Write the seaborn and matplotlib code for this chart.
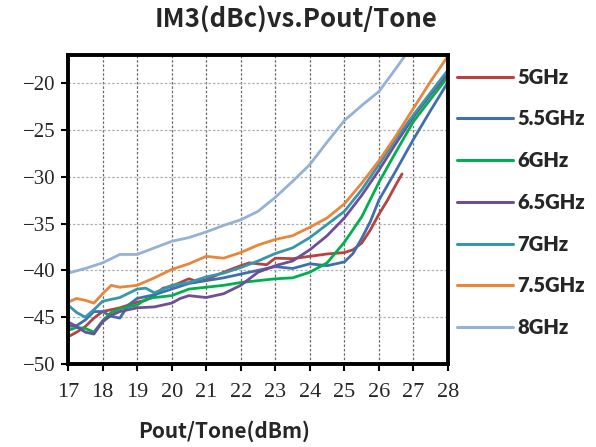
import numpy as np
import pandas as pd
import seaborn as sns
import matplotlib
matplotlib.use("Agg")
import matplotlib.pyplot as plt

# ---- data ----
x_5 = [17, 17.25, 17.5, 17.75, 18, 18.5, 19, 19.25, 19.5, 19.75, 20, 20.5, 20.75, 21, 21.5, 22, 22.25, 22.5, 22.75,
       23, 23.5, 24, 24.5, 25, 25.25, 25.5, 25.75, 26, 26.25, 26.5, 26.67]
y_5 = [-47.1, -46.6, -46.0, -45.1, -44.4, -44.0, -43.4, -43.2, -42.7, -41.9, -41.7, -40.9, -41.2, -41.0, -40.2, -39.5, -39.2, -39.3, -39.4,
       -38.7, -38.75, -38.5, -38.25, -38.1, -37.8, -37.1, -35.7, -34.0, -32.5, -30.8, -29.7]

x_55 = [17, 17.25, 17.5, 17.75, 18, 18.25, 18.5, 18.75, 19, 19.5, 20, 20.5, 21, 21.5, 22, 22.5, 23, 23.5, 24, 24.5,
        25, 25.25, 25.5, 25.75, 26, 26.5, 27, 27.5, 28]
y_55 = [-46.0, -45.9, -45.3, -44.4, -44.4, -44.9, -45.1, -43.7, -43.0, -42.6, -42.0, -41.4, -41.1, -40.8, -40.4, -40.0, -39.6, -39.8, -39.3, -39.5,
        -39.1, -38.2, -36.6, -34.8, -32.5, -29.3, -26.0, -22.9, -19.9]

x_6 = [17, 17.25, 17.5, 17.75, 18, 18.25, 18.5, 19, 19.25, 19.5, 20, 20.5, 21, 21.5, 22, 22.5, 23, 23.5, 24, 24.5,
       25, 25.5, 26, 26.5, 27, 27.5, 28]
y_6 = [-46.4, -46.1, -46.2, -46.6, -45.4, -44.5, -44.1, -43.7, -43.1, -42.9, -42.7, -42.0, -41.8, -41.6, -41.3, -41.1, -40.9, -40.8, -40.2, -39.2,
       -37.0, -34.3, -30.6, -27.3, -24.1, -21.7, -19.3]

x_65 = [17, 17.25, 17.5, 17.75, 18, 18.25, 18.5, 19, 19.5, 20, 20.25, 20.5, 21, 21.5, 22, 22.5, 23, 23.5, 24, 24.5,
        25, 25.5, 26, 26.5, 27, 27.5, 28]
y_65 = [-45.5, -46.0, -46.6, -46.8, -45.5, -44.8, -44.4, -44.0, -43.9, -43.5, -43.0, -42.7, -42.9, -42.5, -41.6, -40.2, -39.5, -39.0, -37.8, -36.3,
        -34.4, -32.0, -29.3, -26.4, -23.6, -21.2, -18.9]

x_7 = [17, 17.25, 17.5, 17.75, 18, 18.5, 19, 19.25, 19.5, 20, 20.5, 21, 21.5, 22, 22.5, 23, 23.5, 24, 24.5,
       25, 25.5, 26, 26.5, 27, 27.5, 28]
y_7 = [-43.7, -44.5, -45.0, -44.2, -43.3, -42.9, -42.0, -41.9, -42.4, -41.6, -41.3, -40.7, -40.3, -39.7, -39.0, -38.2, -37.6, -36.5, -35.1,
       -33.7, -31.4, -28.7, -25.9, -23.4, -21.0, -18.6]

x_75 = [17, 17.25, 17.5, 17.75, 18, 18.25, 18.5, 19, 19.5, 20, 20.5, 21, 21.5, 22, 22.5, 23, 23.5, 24, 24.5,
        25, 25.5, 26, 26.5, 27, 27.5, 28]
y_75 = [-43.4, -43.0, -43.2, -43.5, -42.5, -41.6, -41.8, -41.6, -40.8, -39.9, -39.3, -38.5, -38.7, -38.1, -37.3, -36.7, -36.3, -35.4, -34.4,
        -32.9, -30.7, -28.3, -25.6, -22.7, -19.8, -17.1]

x_8 = [17, 17.5, 18, 18.5, 19, 19.5, 20, 20.5, 21, 21.5, 22, 22.5, 23, 23.5, 24, 24.5, 25, 25.5, 26, 26.5, 26.75]
y_8 = [-40.3, -39.8, -39.2, -38.3, -38.3, -37.6, -36.9, -36.5, -35.9, -35.2, -34.6, -33.7, -32.2, -30.5, -28.7, -26.3, -24.0, -22.4, -20.9, -18.4, -17.1]

labels = ["5GHz", "5.5GHz", "6GHz", "6.5GHz", "7GHz", "7.5GHz", "8GHz"]
xs = [x_5, x_55, x_6, x_65, x_7, x_75, x_8]
ys = [y_5, y_55, y_6, y_65, y_7, y_75, y_8]
colors = ["#b8423f", "#3f6fad", "#00b04f", "#6e4e94", "#3597ae", "#e8863b", "#95b1d7"]

xticks = list(range(17, 29))
yticks = [-50, -45, -40, -35, -30, -25, -20]

frames = [pd.DataFrame({"x": xv, "y": yv, "freq": lab, "order": np.arange(len(xv))})
          for xv, yv, lab in zip(xs, ys, labels)]
df = pd.concat(frames, ignore_index=True)

# ---- plot ----
sns.set_theme(style="white")
plt.rcParams["font.family"] = ["Liberation Serif", "DejaVu Sans"]
plt.rcParams["axes.unicode_minus"] = True

fig = plt.figure(figsize=(5.96, 4.47), dpi=100)
ax = fig.add_axes([68 / 596, 1 - 364 / 447, (448 - 68) / 596, (364 - 55) / 447])

sns.lineplot(data=df, x="x", y="y", hue="freq", hue_order=labels, palette=colors,
             sort=False, estimator=None, units="freq", linewidth=2.0, ax=ax, legend=True)

ax.set_xlim(17, 28)
ax.set_ylim(-50, -17)
ax.set_xticks(xticks)
ax.set_yticks(yticks)
ax.set_xticklabels([str(t) for t in xticks], fontsize=16, family="Liberation Serif")
ax.set_yticklabels(["\u2212" + str(abs(t)) for t in yticks], fontsize=15,
                   family="Liberation Serif")

for s in ax.spines.values():
    s.set_color("black")
    s.set_linewidth(2.8)
ax.tick_params(axis="both", direction="out", length=5, width=1.5, color="black",
               bottom=True, left=True, pad=4)
ax.tick_params(axis="x", pad=9)

for xv in xticks[1:-1]:
    ax.axvline(xv, color="#6a6a6a", linestyle=(0, (2.0, 1.5)), linewidth=0.9, zorder=0)
for yv in yticks[1:]:
    ax.axhline(yv, color="#b0b0b0", linestyle=(0, (2.0, 1.5)), linewidth=0.9, zorder=0)

ax.set_xlabel("")
ax.set_ylabel("")
fig.text(224 / 596, 1 - 431 / 447, "Pout/Tone(dBm)", ha="center", va="center", fontsize=15,
         fontweight="bold", family=["Noto Sans CJK SC", "DejaVu Sans"])

fig.text(296 / 596, 1 - 20 / 447, "IM3(dBc)vs.Pout/Tone", ha="center", va="center", fontsize=18.5,
         fontweight="bold", family=["Noto Sans CJK SC", "DejaVu Sans"])

handles, labs = ax.get_legend_handles_labels()
leg = ax.legend(handles, labs, loc="upper left", bbox_to_anchor=(1.003, 0.985), frameon=False,
                prop={"family": "Lato", "weight": "heavy", "size": 14.5},
                handlelength=2.75, labelspacing=1.13, handletextpad=0.25, borderaxespad=0)
for h in leg.get_lines():
    h.set_linewidth(2.2)

fig.savefig("out.png", dpi=100)
